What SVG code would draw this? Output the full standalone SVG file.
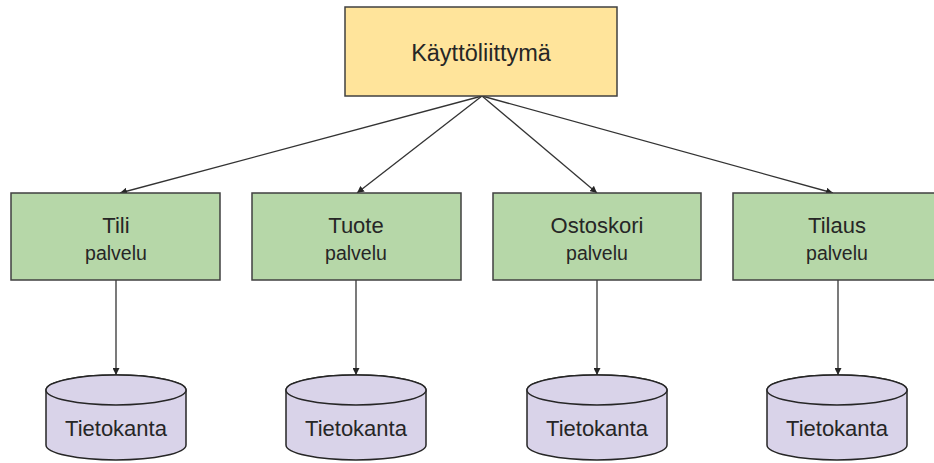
<svg xmlns="http://www.w3.org/2000/svg" width="934" height="463" viewBox="0 0 934 463">
  <defs>
    <marker id="arr" viewBox="0 0 10 10" refX="10" refY="5" markerWidth="7" markerHeight="7" markerUnits="userSpaceOnUse" orient="auto">
      <path d="M0,0 L10,5 L0,10 z" fill="#262626"/>
    </marker>
    <style>
      .box { stroke: #404040; stroke-width: 1.5; }
      .ui { fill: #FFE49B; }
      .svc { fill: #B6D7A8; }
      .db { fill: #D9D3E9; stroke: #262626; stroke-width: 1.5; }
      .edge { stroke: #333; stroke-width: 1.3; fill: none; marker-end: url(#arr); }
      text { font-family: "Liberation Sans", Arial, sans-serif; fill: #262626; text-anchor: middle; }
      .t1 { font-size: 23.5px; }
      .t2 { font-size: 22px; }
      .t3 { font-size: 19.5px; }
    </style>
  </defs>
  <rect width="934" height="463" fill="#ffffff"/>

  <g id="connectors">
    <line class="edge" x1="482" y1="96" x2="120" y2="193"/>
    <line class="edge" x1="482" y1="96" x2="357" y2="193"/>
    <line class="edge" x1="482" y1="96" x2="597" y2="193"/>
    <line class="edge" x1="482" y1="96" x2="833" y2="193"/>
    <line class="edge" x1="116" y1="280" x2="116" y2="375"/>
    <line class="edge" x1="356" y1="280" x2="356" y2="375"/>
    <line class="edge" x1="597" y1="280" x2="597" y2="375"/>
    <line class="edge" x1="838" y1="280" x2="838" y2="375"/>
  </g>

  <g id="kayttoliittyma">
    <rect class="box ui" x="345" y="7" width="272" height="89"/>
    <text class="t1" x="481" y="61">Käyttöliittymä</text>
  </g>

  <g id="tili">
    <rect class="box svc" x="11" y="193" width="209" height="87"/>
    <text class="t2" x="116" y="233">Tili</text>
    <text class="t3" x="116" y="260">palvelu</text>
  </g>
  <g id="tuote">
    <rect class="box svc" x="252" y="193" width="209" height="87"/>
    <text class="t2" x="356" y="233">Tuote</text>
    <text class="t3" x="356" y="260">palvelu</text>
  </g>
  <g id="ostoskori">
    <rect class="box svc" x="493" y="193" width="208" height="87"/>
    <text class="t2" x="597" y="233">Ostoskori</text>
    <text class="t3" x="597" y="260">palvelu</text>
  </g>
  <g id="tilaus">
    <rect class="box svc" x="733" y="193" width="209" height="87"/>
    <text class="t2" x="837" y="233">Tilaus</text>
    <text class="t3" x="837" y="260">palvelu</text>
  </g>

  <g id="db-tili">
    <path class="db" d="M46,390 L46,445 A70,15 0 0 0 186,445 L186,390 A70,15 0 0 0 46,390 Z"/>
    <ellipse class="db" cx="116" cy="390" rx="70" ry="15"/>
    <text class="t2" x="116" y="436">Tietokanta</text>
  </g>
  <g id="db-tuote">
    <path class="db" d="M286,390 L286,445 A70,15 0 0 0 426,445 L426,390 A70,15 0 0 0 286,390 Z"/>
    <ellipse class="db" cx="356" cy="390" rx="70" ry="15"/>
    <text class="t2" x="356" y="436">Tietokanta</text>
  </g>
  <g id="db-ostoskori">
    <path class="db" d="M527,390 L527,445 A70,15 0 0 0 667,445 L667,390 A70,15 0 0 0 527,390 Z"/>
    <ellipse class="db" cx="597" cy="390" rx="70" ry="15"/>
    <text class="t2" x="597" y="436">Tietokanta</text>
  </g>
  <g id="db-tilaus">
    <path class="db" d="M767,390 L767,445 A70,15 0 0 0 907,445 L907,390 A70,15 0 0 0 767,390 Z"/>
    <ellipse class="db" cx="837" cy="390" rx="70" ry="15"/>
    <text class="t2" x="837" y="436">Tietokanta</text>
  </g>
</svg>
